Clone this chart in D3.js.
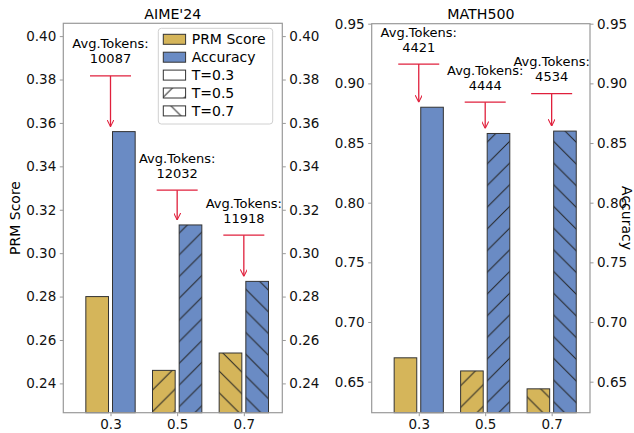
<!DOCTYPE html>
<html>
<head>
<meta charset="utf-8">
<script src="https://cdn.jsdelivr.net/npm/d3@7"></script>
<style>
  body { margin: 0; background: #fff; }
  svg { font-family: "DejaVu Sans", sans-serif; }
</style>
</head>
<body>
<div id="canvas"></div>
<script>
// data
const temps = ["0.3", "0.5", "0.7"];
const hatches = ["", "/", "\\"];

const aimePrm = [0.280, 0.246, 0.254];
const aimeAcc = [0.356, 0.313, 0.287];
const aimeTokens = [10087, 12032, 11918];
const aimeNoteY = [0.3817, 0.329, 0.3083];   // where the red bar of each note sits
const aimeTicks = [0.24, 0.26, 0.28, 0.30, 0.32, 0.34, 0.36, 0.38, 0.40];

const mathPrm = [0.670, 0.659, 0.644];
const mathAcc = [0.880, 0.858, 0.860];
const mathTokens = [4421, 4444, 4534];
const mathNoteY = [0.9162, 0.8842, 0.8914];
const mathTicks = [0.65, 0.70, 0.75, 0.80, 0.85, 0.90, 0.95];

const legendItems = ["PRM Score", "Accuracy", "T=0.3", "T=0.5", "T=0.7"];

const width = 634, height = 433;
const prmColor = "#d5b55a";
const accColor = "#6a8bc4";
const edge = "#333";
const red = "#e0203c";
const spine = "#999";

const svg = d3.select("#canvas").append("svg")
  .attr("width", width).attr("height", height);

// hatch patterns (global origin like matplotlib)
const hs = 21.7;
const defs = svg.append("defs");
defs.append("pattern").attr("id", "h-fwd")
  .attr("patternUnits", "userSpaceOnUse")
  .attr("width", hs).attr("height", hs)
  .append("path")
  .attr("d", `M0,${hs} L${hs},0 M${-hs/2},${hs/2} L${hs/2},${-hs/2} M${hs/2},${hs*1.5} L${hs*1.5},${hs/2}`)
  .attr("stroke", "#222").attr("stroke-width", 1).attr("fill", "none");
defs.append("pattern").attr("id", "h-back")
  .attr("patternUnits", "userSpaceOnUse")
  .attr("width", hs).attr("height", hs)
  .append("path")
  .attr("d", `M0,0 L${hs},${hs} M${-hs/2},${hs/2} L${hs/2},${hs*1.5} M${hs/2},${-hs/2} L${hs*1.5},${hs/2}`)
  .attr("stroke", "#222").attr("stroke-width", 1).attr("fill", "none");
defs.append("marker").attr("id", "arrow")
  .attr("viewBox", "0 0 10 10").attr("refX", 10).attr("refY", 5)
  .attr("markerWidth", 7).attr("markerHeight", 7)
  .attr("markerUnits", "userSpaceOnUse").attr("orient", "auto")
  .append("path").attr("d", "M0,0 L10,5 L0,10")
  .attr("fill", "none").attr("stroke", red).attr("stroke-width", 1.5);

const hatchUrl = h => h === "/" ? "url(#h-fwd)" : h === "\\" ? "url(#h-back)" : "none";

function panel(cfg) {
  const x = d3.scaleLinear().domain([-0.708, 2.577]).range([cfg.left, cfg.right]);
  const y = d3.scaleLinear().domain(cfg.ydom).range([cfg.bottom, cfg.top]);
  const bw = 0.34;
  const g = svg.append("g");

  const series = [
    { vals: cfg.prm, color: prmColor, off: -0.2 },
    { vals: cfg.acc, color: accColor, off: 0.2 }
  ];
  series.forEach(s => {
    const rows = s.vals.map((v, i) => ({ v, i }));
    const rw = x(bw) - x(0);
    const bars = g.append("g").selectAll("g").data(rows).enter().append("g");
    const place = sel => sel
      .attr("x", d => x(d.i + s.off - bw / 2)).attr("y", d => y(d.v))
      .attr("width", rw).attr("height", d => cfg.bottom - y(d.v));
    bars.append("rect").call(place).attr("fill", s.color);
    bars.append("rect").call(place).attr("fill", d => hatchUrl(hatches[d.i]));
    bars.append("rect").call(place)
      .attr("fill", "none").attr("stroke", edge).attr("stroke-width", 1);
  });

  // axes
  const yl = g.append("g").attr("transform", `translate(${cfg.left},0)`)
    .call(d3.axisLeft(y).tickValues(cfg.ticks).tickFormat(d3.format(".2f")).tickSize(3.5).tickPadding(3.5));
  const yr = g.append("g").attr("transform", `translate(${cfg.right},0)`)
    .call(d3.axisRight(y).tickValues(cfg.ticks).tickFormat(d3.format(".2f")).tickSize(3.5).tickPadding(3.5));
  const xa = g.append("g").attr("transform", `translate(0,${cfg.bottom})`)
    .call(d3.axisBottom(x).tickValues([0, 1, 2]).tickFormat(i => temps[i]).tickSize(3.5).tickPadding(3.5));
  [yl, yr, xa].forEach(a => {
    a.select(".domain").remove();
    a.selectAll("line").attr("stroke", spine);
    a.selectAll("text").attr("font-size", 13.5).attr("fill", "#111")
      .attr("font-family", "DejaVu Sans");
  });
  g.append("rect")
    .attr("x", cfg.left).attr("y", cfg.top)
    .attr("width", cfg.right - cfg.left).attr("height", cfg.bottom - cfg.top)
    .attr("fill", "none").attr("stroke", spine).attr("stroke-width", 1.2);

  g.append("text").attr("x", (cfg.left + cfg.right) / 2).attr("y", 19)
    .attr("text-anchor", "middle").attr("font-size", 14.2).text(cfg.title);

  // notes
  cfg.tokens.forEach((t, i) => {
    const cx = x(i);
    const ly = y(cfg.noteY[i]);
    const ng = g.append("g");
    ng.append("text").attr("x", cx).attr("y", ly - 27.5)
      .attr("text-anchor", "middle").attr("font-size", 13).text("Avg.Tokens:");
    ng.append("text").attr("x", cx).attr("y", ly - 12.5)
      .attr("text-anchor", "middle").attr("font-size", 13).text(t);
    ng.append("line").attr("x1", cx - 20.5).attr("x2", cx + 20.5)
      .attr("y1", ly).attr("y2", ly).attr("stroke", red).attr("stroke-width", 1.3);
    ng.append("line").attr("x1", cx).attr("x2", cx)
      .attr("y1", ly).attr("y2", y(cfg.acc[i]) - 5)
      .attr("stroke", red).attr("stroke-width", 1.3).attr("marker-end", "url(#arrow)");
  });
  return { x, y, g };
}

panel({ left: 63.3, right: 282.3, top: 23.3, bottom: 412.7, ydom: [0.2265, 0.4059],
  prm: aimePrm, acc: aimeAcc, tokens: aimeTokens, noteY: aimeNoteY, ticks: aimeTicks, title: "AIME'24" });
panel({ left: 371.7, right: 590, top: 23.7, bottom: 412.7, ydom: [0.624, 0.95],
  prm: mathPrm, acc: mathAcc, tokens: mathTokens, noteY: mathNoteY, ticks: mathTicks, title: "MATH500" });

// axis labels
svg.append("text").attr("transform", "translate(20,218) rotate(-90)")
  .attr("text-anchor", "middle").attr("font-size", 14).text("PRM Score");
svg.append("text").attr("transform", "translate(622,218) rotate(90)")
  .attr("text-anchor", "middle").attr("font-size", 14).text("Accuracy");

// legend
const lg = svg.append("g");
lg.append("rect").attr("x", 158.3).attr("y", 28.3).attr("width", 114.4).attr("height", 95.7)
  .attr("rx", 3).attr("fill", "#fff").attr("fill-opacity", 0.8)
  .attr("stroke", "#d0d0d0").attr("stroke-width", 1);
const ly0 = 39.3, lstep = 17.9;
const legendFill = [prmColor, accColor, "#fff", "#fff", "#fff"];
const legendHatch = ["", "", hatches[0], hatches[1], hatches[2]];
legendItems.forEach((name, i) => {
  const cy = ly0 + i * lstep;
  const sw = lg.append("g");
  const place = sel => sel.attr("x", 163.3).attr("y", cy - 5).attr("width", 22.3).attr("height", 10);
  sw.append("rect").call(place).attr("fill", legendFill[i]);
  sw.append("rect").call(place).attr("fill", hatchUrl(legendHatch[i]));
  sw.append("rect").call(place).attr("fill", "none").attr("stroke", edge).attr("stroke-width", 1);
  lg.append("text").attr("x", 191.7).attr("y", cy).attr("dy", "0.36em")
    .attr("font-size", 14).text(name);
});
</script>
</body>
</html>
